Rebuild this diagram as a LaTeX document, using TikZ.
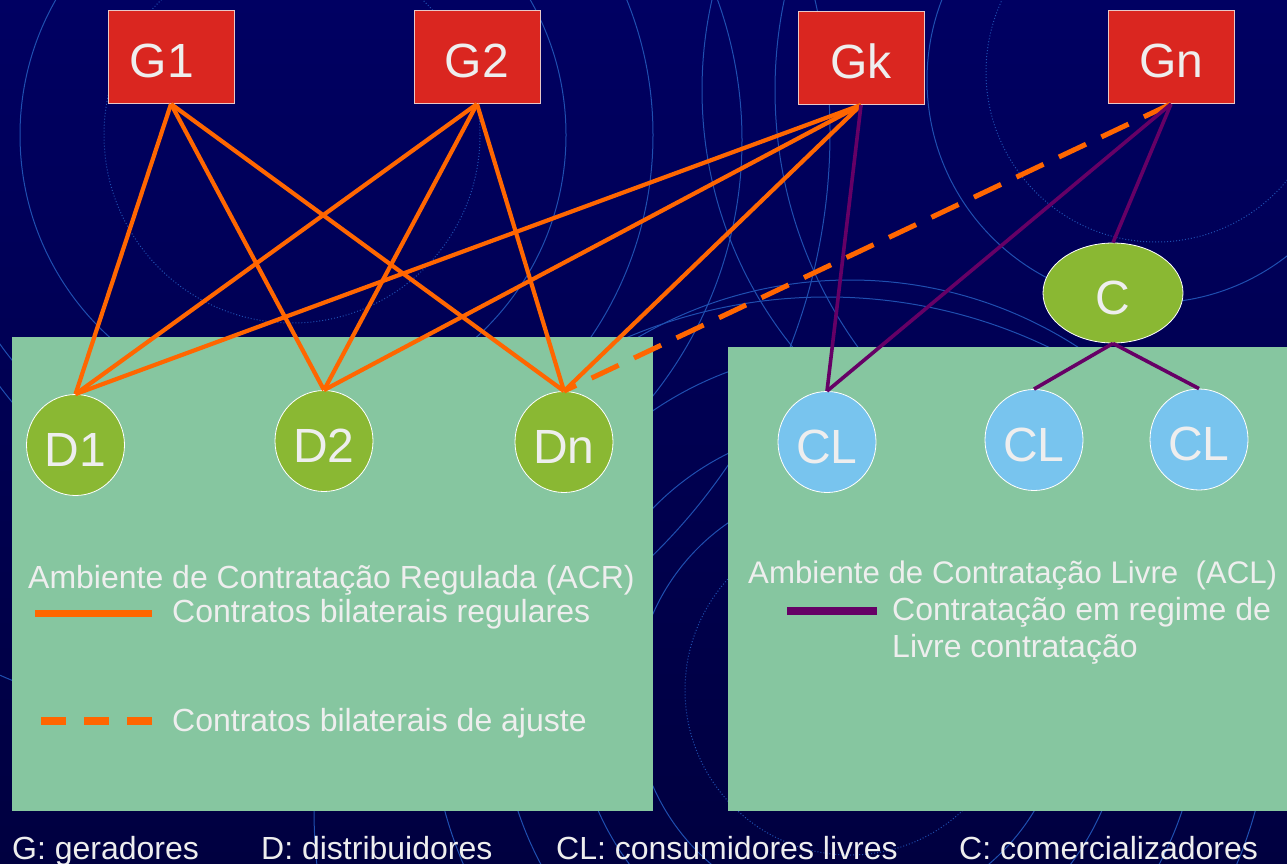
\documentclass[tikz,border=0pt]{standalone}
\usepackage{fontspec}
\setmainfont{Liberation Sans}
\usetikzlibrary{shapes.geometric}
\definecolor{bgtop}{HTML}{000062}
\definecolor{bgbot}{HTML}{000040}
\definecolor{ringblue}{HTML}{1F4FB0}
\definecolor{gred}{HTML}{DA2620}
\definecolor{gborder}{HTML}{E8C8C8}
\definecolor{dgreen}{HTML}{8AB833}
\definecolor{clblue}{HTML}{78C4EE}
\definecolor{panel}{HTML}{86C6A0}
\definecolor{contr}{HTML}{FF6600}
\definecolor{livre}{HTML}{660066}
\definecolor{txt}{HTML}{EEEEEE}
\begin{document}
\begin{tikzpicture}[x=1pt,y=-1pt,
  ring/.style={draw=ringblue, line width=1pt},
  dotring/.style={draw=ringblue, line width=1pt, dash pattern=on 1pt off 2pt},
  lbl/.style={font=\fontsize{48}{50}\selectfont, text=txt, text height=42pt, text depth=0pt, inner sep=0pt},
  gbox/.style={lbl, draw=gborder, line width=1pt, fill=gred, minimum width=126pt, minimum height=93pt},
  dnode/.style={lbl, ellipse, draw=white, line width=0.8pt, fill=dgreen, minimum width=98pt, minimum height=101pt},
  clnode/.style={lbl, ellipse, draw=white, line width=0.8pt, fill=clblue, minimum width=98pt, minimum height=101pt},
  cnode/.style={lbl, ellipse, draw=white, line width=0.8pt, fill=dgreen, minimum width=140pt, minimum height=100pt},
  reg/.style={draw=contr, line width=4.2pt},
  ajuste/.style={draw=contr, line width=5pt, dash pattern=on 30pt off 17pt},
  livreline/.style={draw=livre, line width=3.6pt},
  legtext/.style={font=\fontsize{32}{38}\selectfont, text=txt, inner sep=0pt, anchor=base west},
]
\useasboundingbox (0,0) rectangle (1287,864);
\shade[top color=bgtop, bottom color=bgbot] (0,0) rectangle (1287,864);
\begin{scope}
  \clip (0,0) rectangle (1287,864);
  \draw[ring] (293,135) circle (273);
  \draw[dotring] (292,135) circle (188);
  \draw[ring] (293,135) circle (360);
  \draw[ring] (330,140) circle (412);
  \draw[ring] (1112,90) circle (410);
  \draw[ring] (1215,90) circle (440);
  \draw[ring] (238,133) circle (592);
  \draw[ring] (1150,80) circle (223);
  \draw[dotring] (1156,72) circle (170);
  \draw[ring] (827,810) circle (513);
  \draw[ring] (850,700) circle (215);
  \draw[dotring] (850,690) circle (165);
  \draw[ring] (850,700) circle (275);
  \draw[ring] (850,700) circle (350);
  \draw[ring] (850,700) circle (420);
\end{scope}
\fill[panel] (12,337) rectangle (653,811);
\fill[panel] (728,347) rectangle (1287,811);
% generators
\node[gbox] (G1) at (171,57) {\hspace*{-18pt}G1};
\node[gbox] (G2) at (477,57) {G2};
\node[gbox] (Gk) at (861,58) {Gk};
\node[gbox] (Gn) at (1171,57) {Gn};
% distributors
\node[dnode] (D1) at (75.5,445) {D1};
\node[dnode] (D2) at (324,441) {D2};
\node[dnode] (Dn) at (564,442) {Dn};
% free consumers
\node[clnode] (CL1) at (827,442) {CL};
\node[clnode] (CL2) at (1034,440) {CL};
\node[clnode] (CL3) at (1199,439.5) {CL};
\node[cnode] (C) at (1113,293) {C};
% regulated contracts
\foreach \g in {G1,G2,Gk}{
  \foreach \d in {D1,D2,Dn}{
    \draw[reg] (\g.south) -- (\d.north);
  }
}
\draw[ajuste] (Gn.south) -- (Dn.north);
% free contracts
\draw[livreline] (Gk.south) -- (CL1.north);
\draw[livreline] (Gn.south) -- (CL1.north);
\draw[livreline] (Gn.south) -- (C.north);
\draw[livreline] (C.south) -- (CL2.north);
\draw[livreline] (C.south) -- (CL3.north);
% legend
\node[legtext] (acr) at (28,588) {Ambiente de Contratação Regulada (ACR)};
\coordinate (rega) at (35,613);
\coordinate (regb) at (152,613);
\draw[draw=contr, line width=7pt] (rega) -- (regb);
\node[legtext] (regt) at (172,622) {Contratos bilaterais regulares};
\coordinate (aja) at (41,721);
\coordinate (ajb) at (158,721);
\draw[draw=contr, line width=8pt, dash pattern=on 25pt off 18pt] (aja) -- (ajb);
\node[legtext] (ajt) at (172,731) {Contratos bilaterais de ajuste};
\node[legtext, font=\fontsize{31.2}{38}\selectfont] (acl) at (748,583) {Ambiente de Contratação Livre\ \ (ACL)};
\coordinate (lva) at (787,610.5);
\coordinate (lvb) at (877,610.5);
\draw[draw=livre, line width=8pt] (lva) -- (lvb);
\node[legtext] (lvt1) at (892,620) {Contratação em regime de};
\node[legtext] (lvt2) at (892,657) {Livre contratação};
% bottom key
\node[legtext] (kg) at (12,859) {G: geradores};
\node[legtext] (kd) at (261,859) {D: distribuidores};
\node[legtext] (kcl) at (556,859) {CL: consumidores livres};
\node[legtext] (kc) at (959,859) {C: comercializadores};
\end{tikzpicture}
\end{document}
